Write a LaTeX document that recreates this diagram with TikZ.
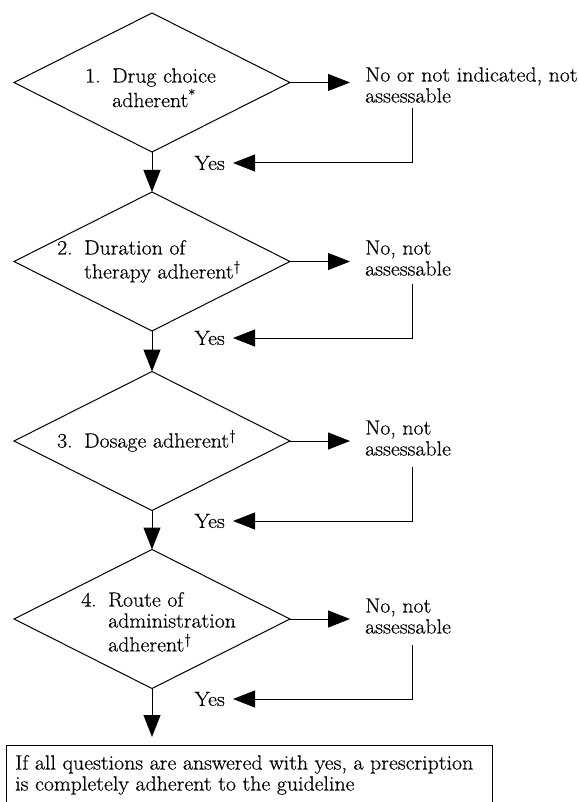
\documentclass[tikz,border=0pt]{standalone}
\usepackage{fontspec}
\setmainfont{Latin Modern Roman}[FakeStretch=1.065, FakeBold=0.5]
\usetikzlibrary{shapes.geometric, arrows.meta}
\newcommand\myfs{\fontsize{20.5}{21}\selectfont}
\tikzset{
  dia/.style={diamond, draw, line width=1pt, minimum width=276pt, minimum height=139pt, inner sep=0pt, outer sep=0pt},
  q/.style={anchor=base west, inner sep=0pt, font=\myfs},
  yes/.style={anchor=east, inner sep=0pt, font=\myfs},
  arr/.style={-{Triangle[length=22pt,width=17pt]}, line width=1pt}
}
\begin{document}
\begin{tikzpicture}[x=1pt, y=-1pt]
\useasboundingbox (0,0) rectangle (578,802);
\clip (0,0) rectangle (578,802);
% diamonds
\node[dia] (d1) at (152,82.5) {};
\node[dia] (d2) at (152,261.5) {};
\node[dia] (d3) at (152,441) {};
\node[dia] (d4) at (152,619) {};
% diamond texts
\node[q] (t1) at (85,82.5) {\begin{tabular}[t]{@{}p{27pt}@{}l@{}}1. & Drug choice\\ & adherent\textsuperscript{*}\end{tabular}};
\node[q] (t2) at (57,254.5) {\begin{tabular}[t]{@{}p{27pt}@{}l@{}}2. & Duration of\\ & therapy adherent\textsuperscript{\textdagger}\end{tabular}};
\node[q] (t3) at (57,447.5) {\begin{tabular}[t]{@{}p{27pt}@{}l@{}}3. & Dosage adherent\textsuperscript{\textdagger}\end{tabular}};
\node[q] (t4) at (81,606.5) {\begin{tabular}[t]{@{}p{27pt}@{}l@{}}4. & Route of\\ & administration\\ & adherent\textsuperscript{\textdagger}\end{tabular}};
% no texts
\node[q] (n1) at (365,81.5) {\begin{tabular}[t]{@{}l@{}}No or not indicated, not\\assessable\end{tabular}};
\node[q] (n2) at (365,254.5) {\begin{tabular}[t]{@{}l@{}}No, not\\assessable\end{tabular}};
\node[q] (n3) at (365,434.5) {\begin{tabular}[t]{@{}l@{}}No, not\\assessable\end{tabular}};
\node[q] (n4) at (365,612.5) {\begin{tabular}[t]{@{}l@{}}No, not\\assessable\end{tabular}};
% yes labels
\node[yes] (y1) at (225,163) {Yes};
\node[yes] (y2) at (225,338) {Yes};
\node[yes] (y3) at (225,521) {Yes};
\node[yes] (y4) at (225,699) {Yes};
% return start points
\coordinate (r1) at (412,108);
\coordinate (r2) at (412,284);
\coordinate (r3) at (412,467);
\coordinate (r4) at (412,645);
% final box
\node[draw, line width=1pt, anchor=north west, inner sep=0pt, minimum width=486.5pt, minimum height=90pt] (box) at (5.5,745) {};
\node[q] (bt) at (15,769.5) {\begin{tabular}[t]{@{}l@{}}If all questions are answered with yes, a prescription\\is completely adherent to the guideline\end{tabular}};
% connectors
\foreach \i in {1,2,3,4} {
  \draw[arr, shorten >=15pt] (d\i.east) -- (d\i.east -| n\i.west);
  \draw[arr] (r\i) |- ([xshift=8pt]y\i.east);
}
\draw[arr] (d1.south) -- (d2.north);
\draw[arr] (d2.south) -- (d3.north);
\draw[arr] (d3.south) -- (d4.north);
\draw[arr] (d4.south) -- ([yshift=8pt]box.north -| d4.south);
\end{tikzpicture}
\end{document}
